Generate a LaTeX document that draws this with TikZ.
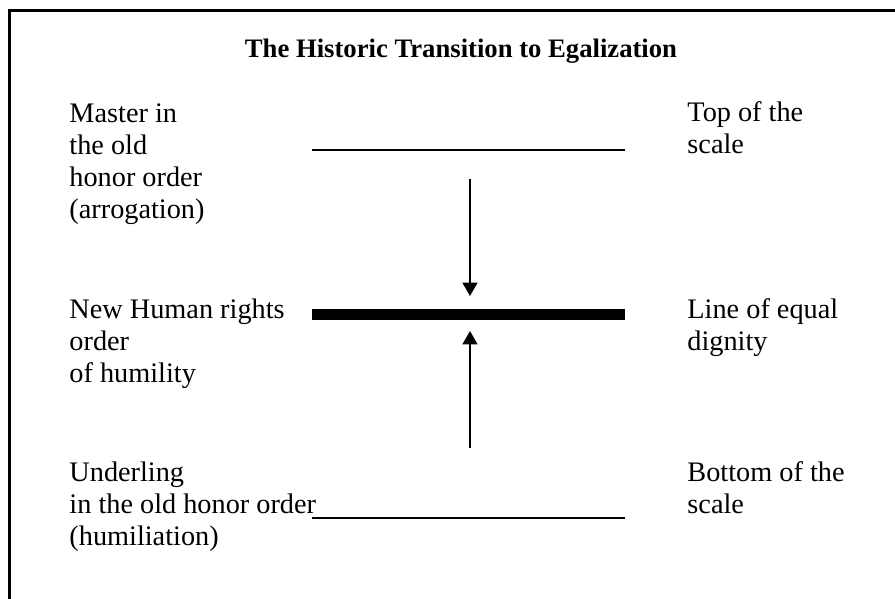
\documentclass[tikz,border=0pt]{standalone}
\usepackage{fontspec}
\setmainfont{Liberation Serif}
\usetikzlibrary{arrows.meta}
\begin{document}
\begin{tikzpicture}[x=0.435pt,y=-0.435pt,
  lbl/.style={anchor=base west, align=left, inner sep=0pt, font=\fontsize{12.3}{13.9}\selectfont},
  ttl/.style={anchor=base, inner sep=0pt, font=\fontsize{11.6}{13.9}\selectfont\bfseries},
  frame/.style={line width=1.3pt, line join=miter},
  thinline/.style={line width=0.87pt},
  thickline/.style={line width=4.8pt},
  arr/.style={line width=0.65pt, -{Triangle[width=6.5pt,length=5.8pt]}}]
\useasboundingbox (0,0) rectangle (895,598);
\draw[frame] (9.5,600) -- (9.5,10) -- (897,10);
\node[ttl] (title) at (461,57) {The Historic Transition to Egalization};
% base anchor of a multi-line node is the baseline of its last line
\node[lbl] (master) at (69,218) {Master in\\the old\\honor order\\(arrogation)};
\node[lbl] (newhr) at (69,382) {New Human rights\\order\\of humility};
\node[lbl] (underling) at (69,545) {Underling\\in the old honor order\\(humiliation)};
\node[lbl] (topscale) at (687,153) {Top of the\\scale};
\node[lbl] (equal) at (687,350) {Line of equal\\dignity};
\node[lbl] (bottomscale) at (687,513) {Bottom of the\\scale};
\coordinate (tl) at (312,150); \coordinate (tr) at (625,150);
\coordinate (ml) at (312,314.5); \coordinate (mr) at (625,314.5);
\coordinate (bl) at (312,518); \coordinate (br) at (625,518);
\draw[thinline] (tl) -- (tr);
\draw[thickline] (ml) -- (mr);
\draw[thinline] (bl) -- (br);
\coordinate (d1) at (470,179); \coordinate (d2) at (470,296);
\coordinate (u1) at (470,448); \coordinate (u2) at (470,331);
\draw[arr] (d1) -- (d2);
\draw[arr] (u1) -- (u2);
\end{tikzpicture}
\end{document}
